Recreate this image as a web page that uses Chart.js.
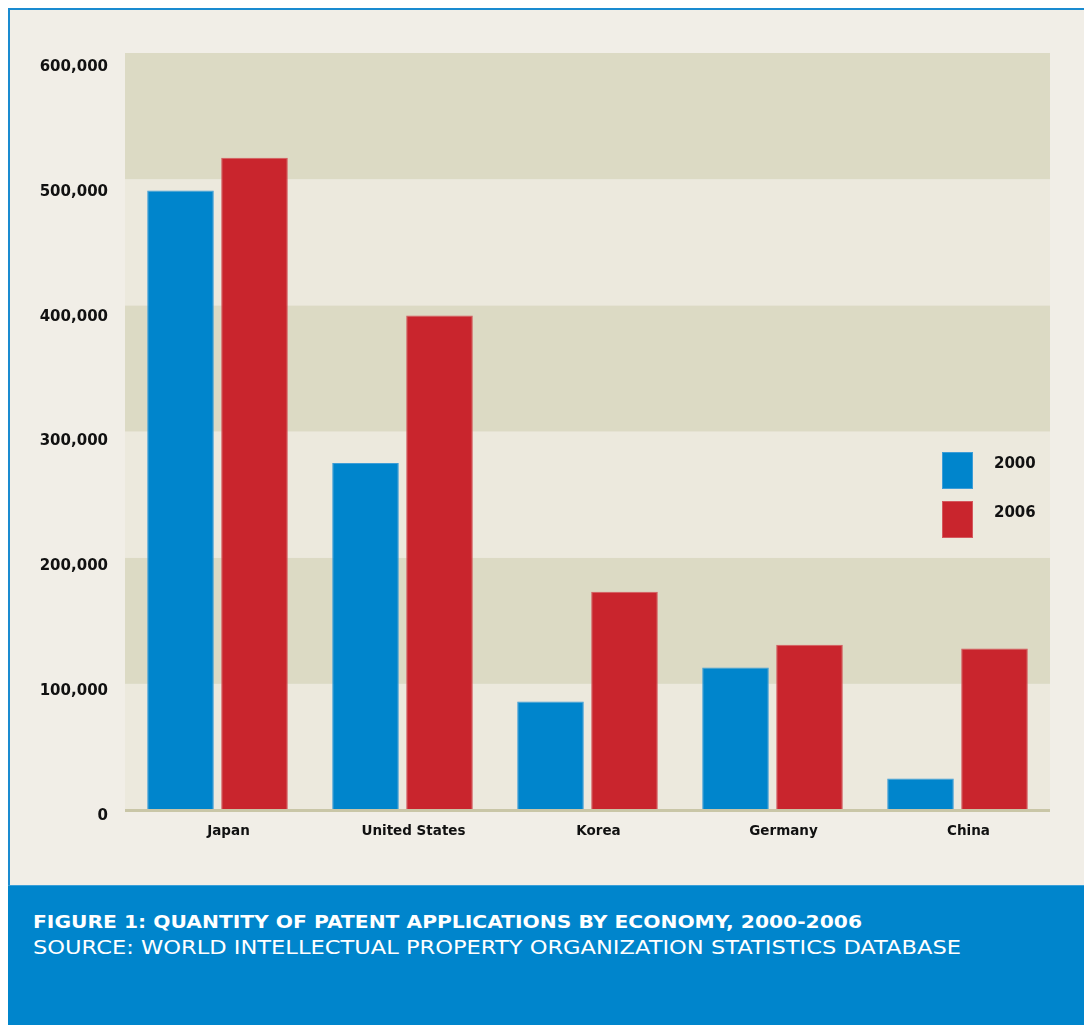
<!DOCTYPE html>
<html>
<head>
<meta charset="utf-8">
<script src="https://cdn.jsdelivr.net/npm/chart.js@4.4.1/dist/chart.umd.min.js"></script>
<style>
  html, body { margin: 0; padding: 0; background: #ffffff; }
  body { width: 1084px; height: 1025px; position: relative; overflow: hidden; font-family: "DejaVu Sans", sans-serif; }
  #frame { position: absolute; left: 8px; top: 8px; width: 1076px; height: 877px; box-sizing: border-box;
           border-left: 2px solid #1a8bd0; border-top: 2px solid #1a8bd0; background: #f1eee7; }
  #wrap { position: absolute; left: 10px; top: 10px; width: 1074px; height: 875px; }
  #footer { position: absolute; left: 8px; top: 885px; width: 1076px; height: 140px; background: #0085cc;
            border-top: 1px solid #3a9fd8; box-sizing: border-box; color: #ffffff; }
  .t1, .t2 { position: absolute; left: 25px; white-space: nowrap; line-height: 1; transform-origin: 0 0; }
  .t1 { top: 27px; font-weight: bold; font-size: 18px; }
  .t2 { top: 52px; font-weight: normal; font-size: 19px; }
</style>
</head>
<body>
<div id="frame"></div>
<div id="wrap"><canvas id="c"></canvas></div>
<div id="footer">
  <div class="t1" id="t1">FIGURE 1: QUANTITY OF PATENT APPLICATIONS BY ECONOMY, 2000-2006</div>
  <div class="t2" id="t2">SOURCE: WORLD INTELLECTUAL PROPERTY ORGANIZATION STATISTICS DATABASE</div>
</div>
<script>
// ---- data ----
const categories = ['Japan', 'United States', 'Korea', 'Germany', 'China'];
const seriesLabels = ['2000', '2006'];
const values2000 = [491000, 275000, 86000, 113000, 25000];
const values2006 = [517000, 392000, 173000, 131000, 128000];
const yTicks = [0, 100000, 200000, 300000, 400000, 500000, 600000];

// ---- styles ----
const BLUE = '#0085cc', BLUE_EDGE = '#3d9dd7';
const RED = '#c9252d', RED_EDGE = '#d4585d';
const BAND_DARK = '#dcdac4', BAND_LIGHT = '#ece9dd';

// fit footer text widths (horizontal scale, text stays real text)
function fitWidth(id, target) {
  const el = document.getElementById(id);
  const w = el.getBoundingClientRect().width;
  el.style.transform = 'scaleX(' + (target / w) + ')';
}
fitWidth('t1', 829);
fitWidth('t2', 928);

const bandsPlugin = {
  id: 'bands',
  beforeDatasetsDraw(chart) {
    const { ctx, chartArea } = chart;
    const y = chart.scales.y;
    ctx.save();
    for (let i = 0; i < yTicks.length - 1; i++) {
      const top = y.getPixelForValue(yTicks[i + 1]);
      const bot = y.getPixelForValue(yTicks[i]);
      ctx.fillStyle = (i % 2 === 0) ? BAND_LIGHT : BAND_DARK;
      ctx.fillRect(chartArea.left, top, chartArea.right - chartArea.left, bot - top);
    }
    ctx.restore();
  },
  afterDatasetsDraw(chart) {
    const { ctx, chartArea } = chart;
    ctx.save();
    ctx.fillStyle = '#c9c6a7';
    ctx.fillRect(chartArea.left, chartArea.bottom - 1, chartArea.right - chartArea.left, 3);
    ctx.restore();
  }
};

const legendPlugin = {
  id: 'customLegend',
  afterDraw(chart) {
    const { ctx, chartArea } = chart;
    ctx.save();
    chart.data.datasets.forEach((ds, i) => {
      const bx = chartArea.right - 108, by = 442 + i * 49;
      ctx.fillStyle = ds.backgroundColor;
      ctx.fillRect(bx, by, 31, 37);
      ctx.strokeStyle = ds.borderColor;
      ctx.lineWidth = 1;
      ctx.strokeRect(bx + 0.5, by + 0.5, 30, 36);
      ctx.fillStyle = '#111111';
      ctx.font = 'bold 15px "DejaVu Sans"';
      ctx.textBaseline = 'middle';
      ctx.textAlign = 'left';
      ctx.fillText(ds.label, chartArea.right - 56, by + 12);
    });
    ctx.restore();
  }
};

new Chart(document.getElementById('c'), {
  type: 'bar',
  data: {
    labels: categories,
    datasets: [
      { label: seriesLabels[0], data: values2000, backgroundColor: BLUE, borderColor: BLUE_EDGE, borderWidth: 1, yAxisID: 'y' },
      { label: seriesLabels[1], data: values2006, backgroundColor: RED, borderColor: RED_EDGE, borderWidth: 1, yAxisID: 'y' }
    ]
  },
  options: {
    responsive: true,
    maintainAspectRatio: false,
    animation: false,
    layout: { padding: { top: 43, right: 34, bottom: 0, left: 0 } },
    plugins: { legend: { display: false }, tooltip: { enabled: false } },
    datasets: { bar: { categoryPercentage: 0.8, barPercentage: 0.9 } },
    scales: {
      x: {
        grid: { display: false, drawTicks: false },
        border: { display: false },
        ticks: { color: '#111111', font: { family: 'DejaVu Sans', weight: 'bold', size: 13.5 },
                 padding: 13, labelOffset: 11, maxRotation: 0, autoSkip: false },
        afterFit(s) { s.height = 75; }
      },
      y: {
        display: false,
        min: 0, max: 600000
      },
      yl: {
        position: 'left',
        min: 3204, max: 609613,
        grid: { display: false, drawTicks: false },
        border: { display: false },
        ticks: { color: '#111111', font: { family: 'DejaVu Sans', weight: 'bold', size: 15 },
                 padding: 17, autoSkip: false, labelOffset: 2,
                 callback: (v) => Number(v).toLocaleString('en-US') },
        afterBuildTicks(axis) { axis.ticks = yTicks.map(v => ({ value: v })); },
        afterFit(s) { s.width = 115; }
      }
    }
  },
  plugins: [bandsPlugin, legendPlugin]
});
</script>
</body>
</html>
